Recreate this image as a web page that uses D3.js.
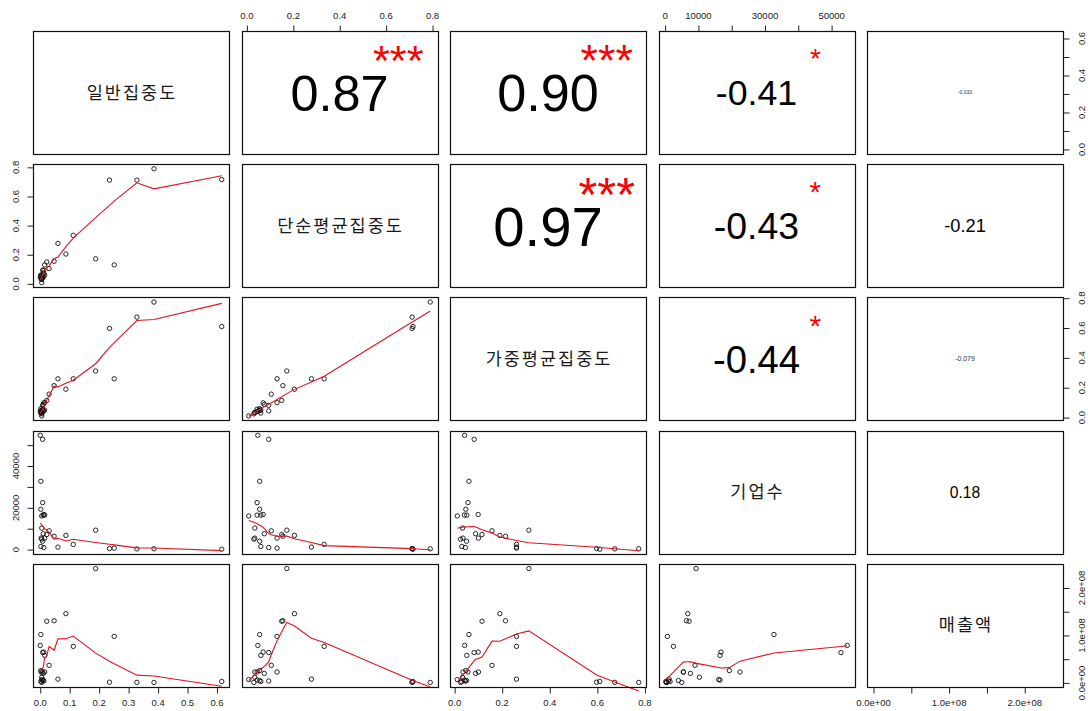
<!DOCTYPE html>
<html>
<head>
<meta charset="utf-8">
<script src="https://cdn.jsdelivr.net/npm/d3@7"></script>
<style>
  html, body { margin: 0; padding: 0; background: #fff; }
  svg { display: block; }
</style>
</head>
<body>
<svg id="chart" width="1088" height="711"></svg>
<script>
// Variable names (diagonal labels)
const variables = ["일반집중도", "단순평균집중도", "가중평균집중도", "기업수", "매출액"];

// Observations, one value per region for each variable
const generalConc = [0.386, 0.328, 0.616, 0.235, 0.188, 0.251, 0.112, 0.060, 0.087, 0.047,
  0.022, 0.030, 0.000, 0.008, 0.002, 0.008, 0.002, 0.005, 0.010, 0.015,
  0.012, 0.005, 0.010, 0.003, 0.015, 0.008, 0.002, 0.012, 0.005];
const simpleAvgConc = [0.790, 0.712, 0.716, 0.712, 0.172, 0.130, 0.333, 0.278, 0.205, 0.155,
  0.150, 0.105, 0.047, 0.094, 0.055, 0.044, 0.055, 0.008, 0.044, 0.060,
  0.070, 0.034, 0.075, 0.034, 0.130, 0.055, 0.060, 0.094, 0.030];
const weightedAvgConc = [0.774, 0.673, 0.610, 0.597, 0.312, 0.260, 0.260, 0.260, 0.190, 0.214,
  0.115, 0.157, 0.042, 0.082, 0.060, 0.056, 0.047, 0.011, 0.041, 0.051,
  0.099, 0.033, 0.088, 0.035, 0.100, 0.050, 0.030, 0.045, 0.025];
const firmCount = [400, 350, 200, 500, 9300, 700, 2500, 1200, 6800, 6400,
  7200, 9000, 54700, 52800, 32700, 22500, 19300, 16100, 16500, 16500,
  16800, 10300, 7600, 5500, 5500, 4000, 1500, 1000, 5000];
const salesAmount = [1.0e6, 1.2e6, 3.0e6, 1.5e6, 2.41e8, 0.98e8, 0.77e8, 0.08e8, 1.46e8, 1.31e8,
  1.30e8, 0.37e8, 0.79e8, 0.64e8, 1.02e8, 0.23e8, 0.26e8, 0.07e8, 0.06e8, 0.58e8,
  0.65e8, 0.12e8, 0.20e8, 0.23e8, 0.23e8, 0.05e8, 0.03e8, 0.04e8, 0.01e8];

const series = [generalConc, simpleAvgConc, weightedAvgConc, firmCount, salesAmount];

// Correlation coefficients and significance marks for the upper panels
const corrRows = [0, 0, 0, 0, 1, 1, 1, 2, 2, 3];
const corrCols = [1, 2, 3, 4, 2, 3, 4, 3, 4, 4];
const corrValues = [0.87, 0.90, -0.41, -0.033, 0.97, -0.43, -0.21, -0.44, -0.079, 0.18];
const corrText = ["0.87", "0.90", "-0.41", "-0.033", "0.97", "-0.43", "-0.21", "-0.44", "-0.079", "0.18"];
const corrStars = ["***", "***", "*", "", "***", "*", "", "*", "", ""];

// Axis ticks per variable
const ticksGeneral = [0, 0.1, 0.2, 0.3, 0.4, 0.5, 0.6];
const ticksSimple = [0, 0.2, 0.4, 0.6, 0.8];
const ticksWeighted = [0, 0.2, 0.4, 0.6, 0.8];
const ticksFirms = [0, 10000, 20000, 30000, 40000, 50000];
const ticksSales = [0, 0.5e8, 1e8, 1.5e8, 2e8];
// Labels along the horizontal axes (blank = unlabeled tick)
const labelsGeneralX = ["0.0", "0.1", "0.2", "0.3", "0.4", "0.5", "0.6"];
const labelsSimpleX = ["0.0", "0.2", "0.4", "0.6", "0.8"];
const labelsWeightedX = ["0.0", "0.2", "0.4", "0.6", "0.8"];
const labelsFirmsX = ["0", "10000", "", "30000", "", "50000"];
const labelsSalesX = ["0.0e+00", "", "1.0e+08", "", "2.0e+08"];
// Labels along the vertical axes
const labelsGeneralY = ["0.0", "", "0.2", "", "0.4", "", "0.6"];
const labelsSimpleY = ["0.0", "0.2", "0.4", "0.6", "0.8"];
const labelsWeightedY = ["0.0", "0.2", "0.4", "0.6", "0.8"];
const labelsFirmsY = ["0", "", "20000", "", "40000", ""];
const labelsSalesY = ["0.0e+00", "", "1.0e+08", "", "2.0e+08"];

const tickSets = [ticksGeneral, ticksSimple, ticksWeighted, ticksFirms, ticksSales];
const xLabelSets = [labelsGeneralX, labelsSimpleX, labelsWeightedX, labelsFirmsX, labelsSalesX];
const yLabelSets = [labelsGeneralY, labelsSimpleY, labelsWeightedY, labelsFirmsY, labelsSalesY];

// ---------- layout ----------
const nVar = variables.length;
const svg = d3.select("#chart");
const colBand = d3.scaleBand().domain(d3.range(nVar)).range([33, 1063]).paddingInner(0.06);
const rowBand = d3.scaleBand().domain(d3.range(nVar)).range([31, 687]).paddingInner(0.0769);
const bw = colBand.bandwidth(), bh = rowBand.bandwidth();

// Extend each data range by 4% on both sides
function paddedDomain(v) {
  const [lo, hi] = d3.extent(v);
  const r = hi - lo;
  return [lo - 0.04 * r, hi + 0.04 * r];
}
const xScales = series.map((v, k) => d3.scaleLinear().domain(paddedDomain(v)).range([colBand(k), colBand(k) + bw]));
const yScales = series.map((v, k) => d3.scaleLinear().domain(paddedDomain(v)).range([rowBand(k) + bh, rowBand(k)]));

// ---------- lowess smoother (Cleveland, as in stats::lowess) ----------
function lowess(xv, yv, f = 2 / 3, nsteps = 3) {
  const n = xv.length;
  const ord = d3.range(n).sort((a, b) => xv[a] - xv[b]);
  const x = [0, ...ord.map(i => xv[i])];
  const y = [0, ...ord.map(i => yv[i])];
  const ys = new Array(n + 1).fill(0);
  const rw = new Array(n + 1).fill(1);
  const w = new Array(n + 1).fill(0);
  const res = new Array(n + 1).fill(0);
  const range = x[n] - x[1];
  const delta = 0.01 * range;
  const ns = Math.max(2, Math.min(n, Math.floor(f * n + 1e-7)));

  function lowest(xs, nleft, nright, userw) {
    const h = Math.max(xs - x[nleft], x[nright] - xs);
    const h9 = 0.999 * h, h1 = 0.001 * h;
    let a = 0, j = nleft;
    while (j <= n) {
      w[j] = 0;
      const r = Math.abs(x[j] - xs);
      if (r <= h9) {
        w[j] = r <= h1 ? 1 : Math.pow(1 - Math.pow(r / h, 3), 3);
        if (userw) w[j] *= rw[j];
        a += w[j];
      } else if (x[j] > xs) break;
      j++;
    }
    const nrt = j - 1;
    if (a <= 0) return null;
    for (j = nleft; j <= nrt; j++) w[j] /= a;
    if (h > 0) {
      a = 0;
      for (j = nleft; j <= nrt; j++) a += w[j] * x[j];
      let b = xs - a, c = 0;
      for (j = nleft; j <= nrt; j++) c += w[j] * (x[j] - a) * (x[j] - a);
      if (Math.sqrt(c) > 0.001 * range) {
        b /= c;
        for (j = nleft; j <= nrt; j++) w[j] *= b * (x[j] - a) + 1;
      }
    }
    let s = 0;
    for (j = nleft; j <= nrt; j++) s += w[j] * y[j];
    return s;
  }

  for (let iter = 1; iter <= nsteps + 1; iter++) {
    let nleft = 1, nright = ns, last = 0, i = 1;
    for (;;) {
      if (nright < n) {
        const d1 = x[i] - x[nleft], d2 = x[nright + 1] - x[i];
        if (d1 > d2) { nleft++; nright++; continue; }
      }
      const fit = lowest(x[i], nleft, nright, iter > 1);
      ys[i] = fit === null ? y[i] : fit;
      if (last < i - 1) {
        const denom = x[i] - x[last];
        for (let j = last + 1; j < i; j++) {
          const alpha = (x[j] - x[last]) / denom;
          ys[j] = alpha * ys[i] + (1 - alpha) * ys[last];
        }
      }
      last = i;
      const cut = x[last] + delta;
      for (i = last + 1; i <= n; i++) {
        if (x[i] > cut) break;
        if (x[i] === x[last]) { ys[i] = ys[last]; last = i; }
      }
      i = Math.max(last + 1, i - 1);
      if (last >= n) break;
    }
    for (let k = 1; k <= n; k++) res[k] = y[k] - ys[k];
    if (iter > nsteps) break;
    const absRes = res.slice(1).map(v => Math.abs(v));
    const sc = d3.mean(absRes);
    const sorted = absRes.slice().sort((a, b) => a - b);
    const m1 = Math.floor(n / 2);
    const cmad = n % 2 === 0 ? 3 * (sorted[m1] + sorted[n - m1 - 1]) : 6 * sorted[m1];
    if (cmad < 1e-7 * sc) break;
    const c9 = 0.999 * cmad, c1 = 0.001 * cmad;
    for (let k = 1; k <= n; k++) {
      const r = Math.abs(res[k]);
      rw[k] = r <= c1 ? 1 : (r <= c9 ? Math.pow(1 - Math.pow(r / cmad, 2), 2) : 0);
    }
  }
  return x.slice(1).map((xx, k) => [xx, ys[k + 1]]);
}

// ---------- panels ----------
const panels = svg.append("g");

for (let i = 0; i < nVar; i++) {
  for (let j = 0; j < nVar; j++) {
    const x0 = colBand(j), y0 = rowBand(i);
    const g = panels.append("g");

    if (i > j) {
      // scatter of column variable (x) against row variable (y)
      const xs = xScales[j], ys = yScales[i];
      const pts = d3.range(series[j].length).map(k => [series[j][k], series[i][k]]);
      g.selectAll("circle").data(pts).join("circle")
        .attr("cx", d => xs(d[0]))
        .attr("cy", d => ys(d[1]))
        .attr("r", 2.2)
        .attr("fill", "none")
        .attr("stroke", "#111")
        .attr("stroke-width", 0.9);
      const smooth = lowess(series[j], series[i]);
      g.append("path")
        .datum(smooth)
        .attr("fill", "none")
        .attr("stroke", "#e0141e")
        .attr("stroke-width", 1.1)
        .attr("d", d3.line().x(d => xs(d[0])).y(d => ys(d[1])));
    } else if (i === j) {
      g.append("text")
        .attr("x", x0 + bw / 2 + 1)
        .attr("y", y0 + bh / 2 + 6)
        .attr("text-anchor", "middle")
        .attr("font-family", "'Noto Sans CJK KR', sans-serif")
        .attr("font-size", 17.5)
        .attr("letter-spacing", 2)
        .attr("fill", "#1a1a1a")
        .text(variables[i]);
    }

    g.append("rect")
      .attr("x", Math.round(x0) + 0.5)
      .attr("y", Math.round(y0) + 0.5)
      .attr("width", Math.round(bw))
      .attr("height", Math.round(bh))
      .attr("fill", "none")
      .attr("stroke", "#111")
      .attr("stroke-width", 1.2);
  }
}

// Correlation text in the upper panels
corrValues.forEach((r, k) => {
  const i = corrRows[k], j = corrCols[k];
  const x0 = colBand(j), y0 = rowBand(i);
  const strong = corrStars[k] === "***";
  const size = Math.max(5, Math.abs(r) * (strong ? 58 : 87));
  panels.append("text")
    .attr("x", x0 + 0.5 * bw)
    .attr("y", y0 + 0.5 * bh + 0.358 * size)
    .attr("text-anchor", "middle")
    .attr("font-family", "'Liberation Sans', Arial, sans-serif")
    .attr("font-size", size)
    .attr("fill", size < 8 ? "#333" : "#000")
    .text(corrText[k]);
  if (corrStars[k]) {
    const ss = strong ? size * 0.86 : size * 0.78;
    panels.append("text")
      .attr("x", x0 + 0.8 * bw)
      .attr("y", y0 + 0.2 * bh + 0.45 * ss)
      .attr("text-anchor", "middle")
      .attr("font-family", "'Liberation Sans', Arial, sans-serif")
      .attr("font-size", ss)
      .attr("fill", "#f00")
      .text(corrStars[k]);
  }
});

// ---------- axes ----------
const axisFont = "'Liberation Sans', Arial, sans-serif";
const tickLen = 6;

function drawTicks(axisGen, transform) {
  const g = svg.append("g").attr("transform", transform).call(axisGen);
  g.select(".domain").remove();
  g.selectAll(".tick line").attr("stroke", "#222");
  g.selectAll(".tick text").remove();
  return g;
}

for (let j = 0; j < nVar; j++) {
  const sc = xScales[j];
  const onTop = j % 2 === 1;
  const yEdge = onTop ? Math.round(rowBand(0)) + 0.5 : Math.round(rowBand(nVar - 1)) + Math.round(bh) + 0.5;
  const axisGen = (onTop ? d3.axisTop(sc) : d3.axisBottom(sc))
    .tickValues(tickSets[j]).tickSize(tickLen).tickSizeOuter(0).tickFormat("");
  drawTicks(axisGen, `translate(0,${yEdge})`);
  svg.append("g").selectAll("text")
    .data(tickSets[j].map((t, k) => [t, xLabelSets[j][k]]).filter(d => d[1]))
    .join("text")
    .attr("x", d => sc(d[0]))
    .attr("y", onTop ? 18.5 : 705.5)
    .attr("text-anchor", "middle")
    .attr("font-family", axisFont)
    .attr("font-size", 9.5)
    .attr("fill", "#222")
    .text(d => d[1]);
}

for (let i = 0; i < nVar; i++) {
  const sc = yScales[i];
  const onLeft = i % 2 === 1;
  const xEdge = onLeft ? Math.round(colBand(0)) + 0.5 : Math.round(colBand(nVar - 1)) + Math.round(bw) + 0.5;
  const axisGen = (onLeft ? d3.axisLeft(sc) : d3.axisRight(sc))
    .tickValues(tickSets[i]).tickSize(tickLen).tickSizeOuter(0).tickFormat("");
  drawTicks(axisGen, `translate(${xEdge},0)`);
  const bx = onLeft ? 18.5 : 1084.5;
  svg.append("g").selectAll("text")
    .data(tickSets[i].map((t, k) => [t, yLabelSets[i][k]]).filter(d => d[1]))
    .join("text")
    .attr("transform", d => `translate(${bx},${sc(d[0])}) rotate(-90)`)
    .attr("text-anchor", "middle")
    .attr("font-family", axisFont)
    .attr("font-size", 9.5)
    .attr("fill", "#222")
    .text(d => d[1]);
}
</script>
</body>
</html>
